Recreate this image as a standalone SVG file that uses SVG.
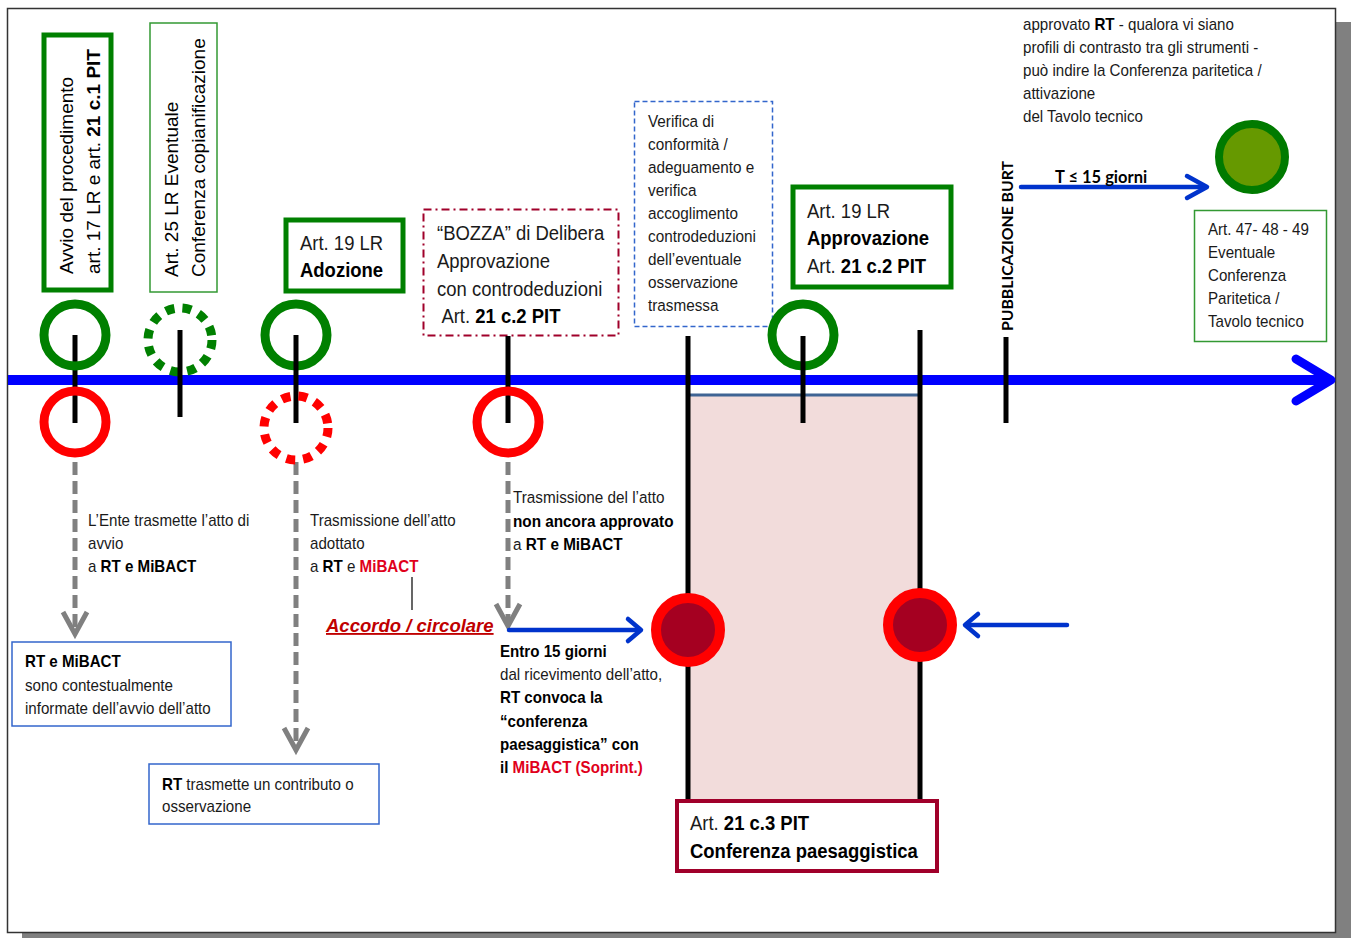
<svg xmlns="http://www.w3.org/2000/svg" width="1351" height="938" viewBox="0 0 1351 938">
<style>
.n{font-family:"Liberation Sans",Arial,sans-serif;fill:#1a1a1a}
.a{font-family:"Liberation Sans",Arial,sans-serif;fill:#000}
.c{font-family:Lato,"Open Sans",sans-serif;font-weight:bold;fill:#000}
.b{font-weight:bold;fill:#000}
.r{fill:#E0001B}
.gbox{fill:#fff;stroke:#008000;stroke-width:5}
.gthin{fill:#fff;stroke:#339933;stroke-width:1.5}
.bthin{fill:#fff;stroke:#3366CC;stroke-width:1.5}
.tick{stroke:#000;stroke-width:5;fill:none}
.gring{fill:none;stroke:#008000;stroke-width:9}
.rring{fill:none;stroke:#FF0000;stroke-width:9}
.gdash{stroke:#808080;stroke-width:5;stroke-dasharray:13 6;fill:none}
.ghead{stroke:#808080;stroke-width:5;fill:none}
.blue{stroke:#0033CC;stroke-width:4.5;fill:none;stroke-linecap:round;stroke-linejoin:round}
</style>
<rect x="0" y="0" width="1351" height="938" fill="#fff"/>
<g id="frame">
<rect x="1336" y="22" width="15" height="916" fill="#808080"/>
<rect x="22" y="933" width="1329" height="5" fill="#808080"/>
<rect x="7.5" y="8.5" width="1328" height="924" fill="#fff" stroke="#333" stroke-width="1.5"/>
</g>
<g id="band">
<rect x="688" y="395" width="232" height="405" fill="#F2DCDB"/>
<line x1="688" y1="395" x2="920" y2="395" stroke="#3F6494" stroke-width="3"/>
</g>
<g id="timeline">
<line x1="8" y1="380" x2="1328" y2="380" stroke="#0000FF" stroke-width="10"/>
<polyline points="1296,359 1331,380 1296,401" fill="none" stroke="#0000FF" stroke-width="9" stroke-linecap="round" stroke-linejoin="round"/>
</g>
<g id="connectors">
<line class="gdash" x1="75" y1="462" x2="75" y2="632"/>
<polyline class="ghead" points="63,612 75,634 87,612"/>
<line class="gdash" x1="296" y1="462" x2="296" y2="748"/>
<polyline class="ghead" points="284,728 296,750 308,728"/>
<line class="gdash" x1="508" y1="462" x2="508" y2="622"/>
<polyline class="ghead" points="496,604 508,626 520,604"/>
<line x1="412" y1="577" x2="412" y2="610" stroke="#000" stroke-width="1.2"/>
<line class="blue" x1="509" y1="630" x2="640" y2="630"/>
<polyline class="blue" points="628,619 641,630 628,641"/>
<line class="blue" x1="966" y1="625" x2="1067" y2="625"/>
<polyline class="blue" points="978,614 965,625 978,636"/>
<line class="blue" x1="1021" y1="187" x2="1206" y2="187"/>
<polyline class="blue" points="1187,176 1207,187 1187,198"/>
</g>
<g id="n-avvio">
<rect class="gbox" x="44" y="35" width="67" height="255"/>
<text class="a" font-size="19" transform="translate(73,274) rotate(-90)">Avvio del procedimento</text>
<text class="a" font-size="19" transform="translate(100,274) rotate(-90)">art. 17 LR e art. <tspan class="b">21 c.1 PIT</tspan></text>
<line class="tick" x1="75" y1="335" x2="75" y2="423"/>
<circle class="gring" cx="75" cy="335" r="31"/>
<circle class="rring" cx="75" cy="422" r="31"/>
</g>
<g id="n-art25">
<rect class="gthin" x="150" y="23" width="67" height="269"/>
<text class="a" font-size="19" transform="translate(178,277) rotate(-90)">Art. 25 LR Eventuale</text>
<text class="a" font-size="19" transform="translate(205,277) rotate(-90)">Conferenza copianificazione</text>
<circle cx="180" cy="340" r="32" fill="none" stroke="#008000" stroke-width="9" stroke-dasharray="9 8"/>
<line class="tick" x1="180" y1="330" x2="180" y2="417"/>
</g>
<g id="n-adozione">
<rect class="gbox" x="286" y="220" width="117" height="71"/>
<text class="n" font-size="21" transform="matrix(0.88 0 0 1 300 0)">
<tspan x="0" y="250">Art. 19 LR</tspan>
<tspan class="b" x="0" y="277">Adozione</tspan>
</text>
<circle class="gring" cx="296" cy="335" r="31"/>
<line class="tick" x1="296" y1="335" x2="296" y2="423"/>
<circle cx="296" cy="428" r="32" fill="none" stroke="#FF0000" stroke-width="9" stroke-dasharray="9 8"/>
</g>
<g id="n-bozza">
<rect x="423.5" y="209.5" width="195" height="126" fill="#fff" stroke="#A0002A" stroke-width="2" stroke-dasharray="8 4 2 4"/>
<text class="n" font-size="21" transform="matrix(0.88 0 0 1 437 0)">
<tspan x="0" y="240">“BOZZA” di Delibera</tspan>
<tspan x="0" y="268">Approvazione</tspan>
<tspan x="0" y="296">con controdeduzioni</tspan>
<tspan x="5" y="323">Art. <tspan class="b">21 c.2 PIT</tspan></tspan>
</text>
<line class="tick" x1="508" y1="336" x2="508" y2="423"/>
<circle class="rring" cx="508" cy="422" r="31"/>
</g>
<g id="n-verifica">
<rect x="634.5" y="101.5" width="138" height="225" fill="#fff" stroke="#3366CC" stroke-width="1.5" stroke-dasharray="5 3"/>
<text class="n" font-size="17" transform="matrix(0.9 0 0 1 648 0)">
<tspan x="0" y="127">Verifica di</tspan>
<tspan x="0" y="150">conformità /</tspan>
<tspan x="0" y="173">adeguamento e</tspan>
<tspan x="0" y="196">verifica</tspan>
<tspan x="0" y="219">accoglimento</tspan>
<tspan x="0" y="242">controdeduzioni</tspan>
<tspan x="0" y="265">dell’eventuale</tspan>
<tspan x="0" y="288">osservazione</tspan>
<tspan x="0" y="311">trasmessa</tspan>
</text>
<line class="tick" x1="688" y1="336" x2="688" y2="600"/>
<line class="tick" x1="688" y1="660" x2="688" y2="800"/>
</g>
<g id="n-approvazione">
<rect class="gbox" x="793" y="187" width="158" height="100"/>
<text class="n" font-size="21" transform="matrix(0.88 0 0 1 807 0)">
<tspan x="0" y="218">Art. 19 LR</tspan>
<tspan class="b" x="0" y="245">Approvazione</tspan>
<tspan x="0" y="273">Art. <tspan class="b">21 c.2 PIT</tspan></tspan>
</text>
<circle class="gring" cx="803" cy="335" r="31"/>
<line class="tick" x1="803" y1="336" x2="803" y2="423"/>
<line class="tick" x1="920" y1="330" x2="920" y2="595"/>
<line class="tick" x1="920" y1="655" x2="920" y2="800"/>
</g>
<g id="n-conf1">
<circle cx="688" cy="630" r="32" fill="#A50021" stroke="#FF0000" stroke-width="10"/>
</g>
<g id="n-conf2">
<circle cx="920" cy="625" r="32" fill="#A50021" stroke="#FF0000" stroke-width="10"/>
</g>
<g id="n-paesaggistica">
<rect x="677" y="801" width="260" height="70" fill="#fff" stroke="#A0002A" stroke-width="4"/>
<text class="n" font-size="21" transform="matrix(0.88 0 0 1 690 0)">
<tspan x="0" y="830">Art. <tspan class="b">21 c.3 PIT</tspan></tspan>
<tspan class="b" x="0" y="858">Conferenza paesaggistica</tspan>
</text>
</g>
<g id="n-burt">
<text class="c" font-size="15" textLength="170" lengthAdjust="spacingAndGlyphs" transform="translate(1013,331) rotate(-90)">PUBBLICAZIONE BURT</text>
<line class="tick" x1="1006" y1="337" x2="1006" y2="423"/>
<text class="c" font-size="16.5" x="1055" y="183">T ≤ 15 giorni</text>
</g>
<g id="n-note">
<text class="n" font-size="17" transform="matrix(0.89 0 0 1 1023 0)">
<tspan x="0" y="30">approvato  <tspan class="b">RT</tspan> - qualora vi siano</tspan>
<tspan x="0" y="53">profili di contrasto tra gli strumenti -</tspan>
<tspan x="0" y="76">può indire la Conferenza paritetica /</tspan>
<tspan x="0" y="99">attivazione</tspan>
<tspan x="0" y="122">del Tavolo tecnico</tspan>
</text>
</g>
<g id="n-paritetica">
<circle cx="1252" cy="157" r="33" fill="#669900" stroke="#007A00" stroke-width="8"/>
<rect class="gthin" x="1194.5" y="210.5" width="132" height="131"/>
<text class="n" font-size="17" transform="matrix(0.89 0 0 1 1208 0)">
<tspan x="0" y="235">Art. 47- 48 - 49</tspan>
<tspan x="0" y="258">Eventuale</tspan>
<tspan x="0" y="281">Conferenza</tspan>
<tspan x="0" y="304">Paritetica /</tspan>
<tspan x="0" y="327">Tavolo tecnico</tspan>
</text>
</g>
<g id="n-ente">
<text class="n" font-size="17" transform="matrix(0.89 0 0 1 88 0)">
<tspan x="0" y="526">L’Ente trasmette l’atto di</tspan>
<tspan x="0" y="549">avvio</tspan>
<tspan x="0" y="572">a <tspan class="b">RT e MiBACT</tspan></tspan>
</text>
</g>
<g id="n-info">
<rect class="bthin" x="12" y="642" width="219" height="84"/>
<text class="n" font-size="17" transform="matrix(0.89 0 0 1 25 0)">
<tspan class="b" x="0" y="667">RT e MiBACT</tspan>
<tspan x="0" y="691">sono contestualmente</tspan>
<tspan x="0" y="714">informate dell’avvio dell’atto</tspan>
</text>
</g>
<g id="n-adottato">
<text class="n" font-size="17" transform="matrix(0.89 0 0 1 310 0)">
<tspan x="0" y="526">Trasmissione dell’atto</tspan>
<tspan x="0" y="549">adottato</tspan>
<tspan x="0" y="572">a <tspan class="b">RT</tspan> e <tspan font-weight="bold" class="r">MiBACT</tspan></tspan>
</text>
<text x="326" y="632" font-family="Liberation Sans,Arial,sans-serif" font-size="18.5" font-weight="bold" font-style="italic" fill="#C00000" text-decoration="underline">Accordo / circolare</text>
</g>
<g id="n-contributo">
<rect class="bthin" x="149" y="764" width="230" height="60"/>
<text class="n" font-size="17" transform="matrix(0.89 0 0 1 162 0)">
<tspan x="0" y="790"><tspan class="b">RT</tspan> trasmette un contributo  o</tspan>
<tspan x="0" y="812">osservazione</tspan>
</text>
</g>
<g id="n-bozzatrasm">
<text class="n" font-size="17" transform="matrix(0.9 0 0 1 513 0)">
<tspan x="0" y="503">Trasmissione del l’atto</tspan>
<tspan class="b" x="0" y="527">non ancora approvato</tspan>
<tspan x="0" y="550">a <tspan class="b">RT e MiBACT</tspan></tspan>
</text>
</g>
<g id="n-entro">
<text class="n" font-size="17" transform="matrix(0.89 0 0 1 500 0)">
<tspan class="b" x="0" y="657">Entro 15 giorni</tspan>
<tspan x="0" y="680">dal ricevimento dell’atto,</tspan>
<tspan class="b" x="0" y="703">RT convoca la</tspan>
<tspan class="b" x="0" y="727">“conferenza</tspan>
<tspan class="b" x="0" y="750">paesaggistica” con</tspan>
<tspan x="0" y="773"> <tspan class="b">il</tspan> <tspan font-weight="bold" class="r">MiBACT (Soprint.)</tspan></tspan>
</text>
</g>
</svg>
